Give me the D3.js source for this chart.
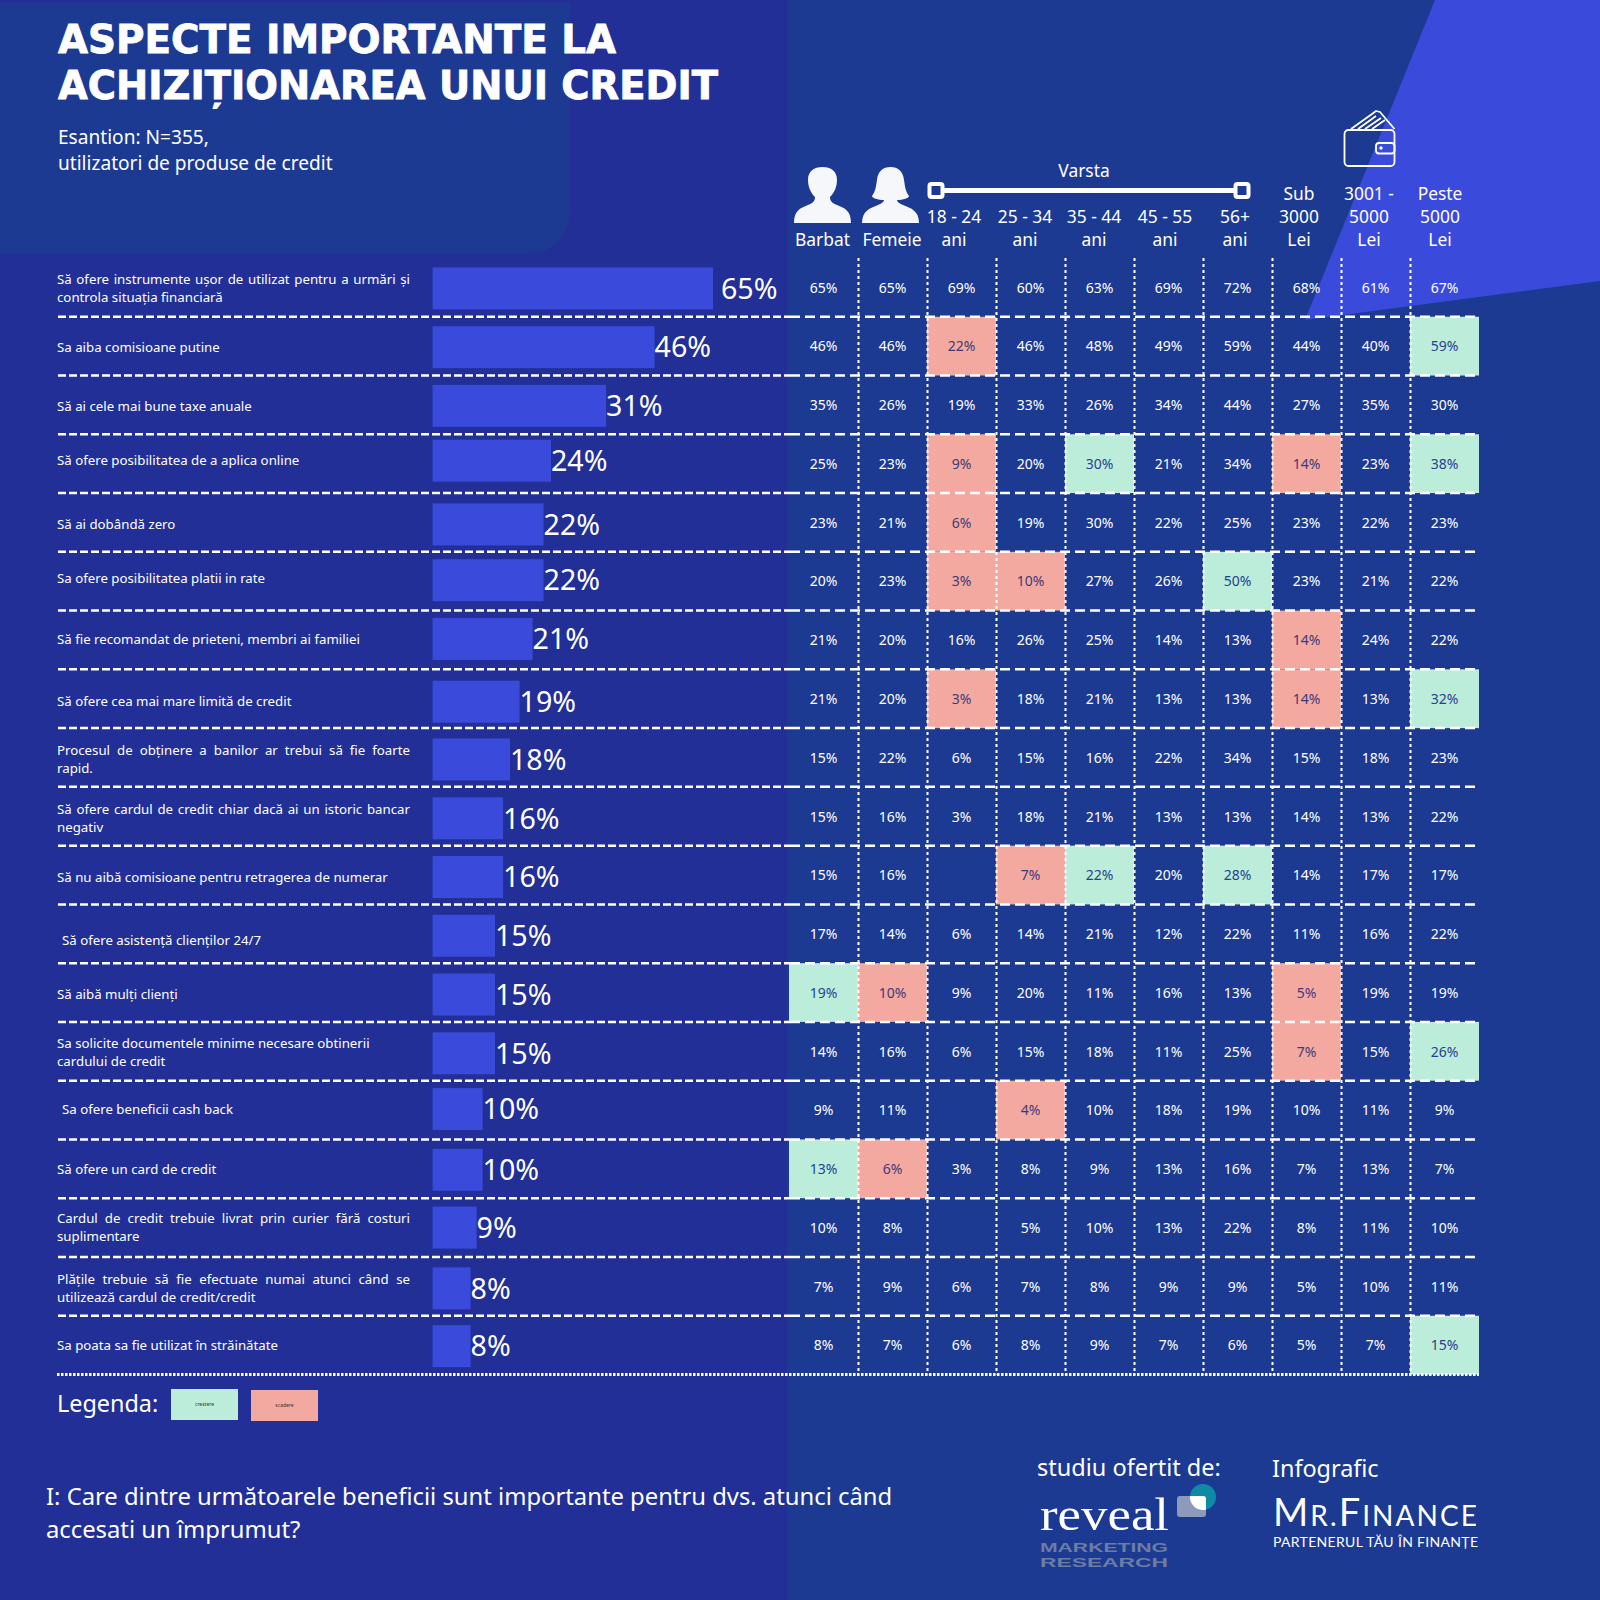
<!DOCTYPE html>
<html>
<head>
<meta charset="utf-8">
<script src="https://cdn.jsdelivr.net/npm/d3@7"></script>
<style>
  html, body { margin: 0; padding: 0; background: #222f96; }
  svg { display: block; }
  text { font-family: "Noto Sans", sans-serif; fill: #fff; }
</style>
</head>
<body>
<svg id="chart" width="1600" height="1600"></svg>
<script>
// row labels, one entry per text line
const aspects = [
  ["Să ofere instrumente ușor de utilizat pentru a urmări și", "controla situația financiară"],
  ["Sa aiba comisioane putine"],
  ["Să ai cele mai bune taxe anuale"],
  ["Să ofere posibilitatea de a aplica online"],
  ["Să ai dobândă zero"],
  ["Sa ofere posibilitatea platii in rate"],
  ["Să fie recomandat de prieteni, membri ai familiei"],
  ["Să ofere cea mai mare limită de credit"],
  ["Procesul de obținere a banilor ar trebui să fie foarte", "rapid."],
  ["Să ofere cardul de credit chiar dacă ai un istoric bancar", "negativ"],
  ["Să nu aibă comisioane pentru retragerea de numerar"],
  [" Să ofere asistență clienților 24/7"],
  ["Să aibă mulți clienți"],
  ["Sa solicite documentele minime necesare obtinerii", "cardului de credit"],
  [" Sa ofere beneficii cash back"],
  ["Să ofere un card de credit"],
  ["Cardul de credit trebuie livrat prin curier fără costuri", "suplimentare"],
  ["Plățile trebuie să fie efectuate numai atunci când se", "utilizează cardul de credit/credit"],
  ["Sa poata sa fie utilizat în străinătate"]
];
const justifiedRows = [0, 8, 9, 16, 17];

const total = [65, 46, 31, 24, 22, 22, 21, 19, 18, 16, 16, 15, 15, 15, 10, 10, 9, 8, 8];

const barbat  = [65, 46, 35, 25, 23, 20, 21, 21, 15, 15, 15, 17, 19, 14, 9, 13, 10, 7, 8];
const femeie  = [65, 46, 26, 23, 21, 23, 20, 20, 22, 16, 16, 14, 10, 16, 11, 6, 8, 9, 7];
const age1824 = [69, 22, 19, 9, 6, 3, 16, 3, 6, 3, null, 6, 9, 6, null, 3, null, 6, 6];
const age2534 = [60, 46, 33, 20, 19, 10, 26, 18, 15, 18, 7, 14, 20, 15, 4, 8, 5, 7, 8];
const age3544 = [63, 48, 26, 30, 30, 27, 25, 21, 16, 21, 22, 21, 11, 18, 10, 9, 10, 8, 9];
const age4555 = [69, 49, 34, 21, 22, 26, 14, 13, 22, 13, 20, 12, 16, 11, 18, 13, 13, 9, 7];
const age56   = [72, 59, 44, 34, 25, 50, 13, 13, 34, 13, 28, 22, 13, 25, 19, 16, 22, 9, 6];
const sub3000 = [68, 44, 27, 14, 23, 23, 14, 14, 15, 14, 14, 11, 5, 7, 10, 7, 8, 5, 5];
const mid5000 = [61, 40, 35, 23, 22, 21, 24, 13, 18, 13, 17, 16, 19, 15, 11, 13, 11, 10, 7];
const over5000 = [67, 59, 30, 38, 23, 22, 22, 32, 23, 22, 17, 22, 19, 26, 9, 7, 10, 11, 15];
const columns = [barbat, femeie, age1824, age2534, age3544, age4555, age56, sub3000, mid5000, over5000];

// highlighted cells as [row, column]
const crestere = [[1, 9], [3, 4], [3, 9], [5, 6], [7, 9], [10, 4], [10, 6], [12, 0], [13, 9], [15, 0], [18, 9]];
const scadere = [[1, 2], [3, 2], [3, 7], [4, 2], [5, 2], [5, 3], [6, 7], [7, 2], [7, 7], [10, 3], [12, 1], [12, 7], [13, 7], [14, 3], [15, 1]];

const headerLabels = [
  ["Barbat"], ["Femeie"], ["18 - 24", "ani"], ["25 - 34", "ani"], ["35 - 44", "ani"],
  ["45 - 55", "ani"], ["56+", "ani"], ["Sub", "3000", "Lei"], ["3001 -", "5000", "Lei"], ["Peste", "5000", "Lei"]
];
const headerX = [822.5, 892, 954, 1025, 1094, 1165, 1235, 1299, 1369, 1440];

const C = {
  left: "#222f96", right: "#1c3a92", bar: "#3a4adb", mint: "#bcedDb", salmon: "#f4a9a0",
  inkMint: "#27408f", inkSalmon: "#3c3a78"
};

// small hand placement of each row's bar and label, as in the original
const barNudge = [1, 1, 1, -3, 2, -1, -1, 3, 2, 2, 2, 2, 2, 2, -1, 1, 0, 2, 1];
const labelNudge = [1, 1, 1, -3, 2, -3, -1, 3, 2, 2, 2, 7, 2, 1, -1, 1, 0, 2, 0];

const svg = d3.select("#chart");
const rowIds = d3.range(aspects.length);
const y = d3.scaleBand().domain(rowIds).range([258, 1374.5]);
const x = d3.scaleBand().domain(d3.range(columns.length)).range([789, 1479]);
// the bars of the original are not strictly proportional, so the scale has several knots
const barW = d3.scaleLinear()
  .domain([0, 8, 10, 15, 16, 18, 19, 21, 22, 24, 31, 46, 65])
  .range([0, 38, 50, 62.4, 70.5, 77.4, 87, 100, 111, 118.4, 173.5, 222, 280.4]);

// backgrounds
svg.append("rect").attr("width", 1600).attr("height", 1600).attr("fill", C.left);
svg.append("rect").attr("x", 787).attr("width", 813).attr("height", 1600).attr("fill", C.right);
svg.append("path").attr("fill", C.right).attr("d", "M0,3H570V213A40,40 0 0 1 530,253H0Z");
svg.append("polygon").attr("fill", C.bar).attr("points", "1435,0 1600,0 1600,281 1305,320");

// title block
svg.selectAll("text.title").data([["ASPECTE IMPORTANTE LA", 558], ["ACHIZIȚIONAREA UNUI CREDIT", 660]]).join("text")
  .attr("class", "title").attr("x", 58).attr("y", (d, i) => 53 + i * 46)
  .style("font-family", "DejaVu Sans").attr("font-weight", 700).attr("font-size", 38.5)
  .attr("stroke", "#fff").attr("stroke-width", 0.8)
  .attr("textLength", d => d[1]).attr("lengthAdjust", "spacingAndGlyphs").text(d => d[0]);
svg.selectAll("text.sub").data(["Esantion: N=355,", "utilizatori de produse de credit"]).join("text")
  .attr("class", "sub").attr("x", 58).attr("y", (d, i) => 144 + i * 26)
  .attr("font-size", 19.1).text(d => d);

// highlighted cells
const cellRect = (list, fill) => svg.append("g").selectAll("rect").data(list).join("rect")
  .attr("x", d => x(d[1])).attr("y", d => y(d[0]))
  .attr("width", x.bandwidth()).attr("height", y.bandwidth()).attr("fill", fill);
cellRect(crestere, C.mint);
cellRect(scadere, C.salmon);

// bars
svg.append("g").selectAll("rect").data(total).join("rect")
  .attr("x", 432.6).attr("y", (d, i) => y(i) + y.bandwidth() / 2 + barNudge[i] - 21)
  .attr("width", d => barW(d)).attr("height", 42).attr("fill", C.bar);
svg.append("g").selectAll("text").data(total).join("text")
  .attr("x", (d, i) => 432.6 + barW(d) + (i === 0 ? 8 : 0))
  .attr("y", (d, i) => y(i) + y.bandwidth() / 2 + barNudge[i])
  .attr("dy", "0.36em").attr("font-size", 28.6).text(d => d + "%");

// row labels
const labelG = svg.append("g").selectAll("g").data(aspects).join("g")
  .attr("transform", (d, i) => `translate(0,${y(i) + y.bandwidth() / 2 + labelNudge[i]})`);
labelG.each(function (lines, r) {
  const indent = lines[0].startsWith(" ") ? 5 : 0;
  d3.select(this).selectAll("text").data(lines).join("text")
    .attr("x", 57 + indent)
    .attr("y", (d, i) => (i - (lines.length - 1) / 2) * 18)
    .attr("dy", "0.35em").attr("font-size", 13.25).text(d => d.trim())
    .each(function (d, i) {
      if (i === 0 && justifiedRows.includes(r)) {
        const gaps = d.trim().split(" ").length - 1;
        const w = this.getComputedTextLength();
        d3.select(this).attr("word-spacing", (353 - w) / gaps);
      }
    });
});

// table values
columns.forEach((col, c) => {
  const ink = r => crestere.some(p => p[0] === r && p[1] === c) ? C.inkMint
    : scadere.some(p => p[0] === r && p[1] === c) ? C.inkSalmon : "#fff";
  svg.append("g").selectAll("text").data(col).join("text")
    .attr("x", x(c) + x.bandwidth() / 2).attr("y", (d, r) => y(r) + y.bandwidth() / 2 + 0.4)
    .attr("text-anchor", "middle").attr("dy", "0.35em").attr("font-size", 14)
    .style("fill", (d, r) => ink(r)).text(d => d === null ? "" : d + "%");
});

// grid lines
const grid = svg.append("g").attr("stroke", "#fff").attr("fill", "none");
grid.selectAll("line.h").data(rowIds.slice(1)).join("line").attr("class", "h")
  .attr("x1", 58).attr("x2", 790).attr("y1", d => y(d)).attr("y2", d => y(d))
  .attr("stroke-width", 2.5).attr("stroke-dasharray", "8 3");
grid.selectAll("line.hr").data(rowIds.slice(1)).join("line").attr("class", "hr")
  .attr("x1", 790).attr("x2", 1479).attr("y1", d => y(d)).attr("y2", d => y(d))
  .attr("stroke-width", 2.5).attr("stroke-dasharray", "10 5");
grid.append("line").attr("x1", 57).attr("x2", 1479).attr("y1", 1374.5).attr("y2", 1374.5)
  .attr("stroke-width", 3).attr("stroke-dasharray", "2.5 1.5");
grid.selectAll("line.v").data(d3.range(1, columns.length)).join("line").attr("class", "v")
  .attr("x1", d => x(d) + 0.5).attr("x2", d => x(d) + 0.5).attr("y1", 258).attr("y2", 1374.5)
  .attr("stroke-width", 2).attr("stroke-dasharray", "3 3");

// column headers, bottom aligned
headerLabels.forEach((lines, c) => {
  svg.append("g").selectAll("text").data(lines).join("text")
    .attr("x", headerX[c]).attr("y", (d, i) => 246 - (lines.length - 1 - i) * 23)
    .attr("text-anchor", "middle").attr("font-size", 17.4).text(d => d);
});
svg.append("text").attr("x", 1084).attr("y", 177).attr("text-anchor", "middle").attr("font-size", 17.4).text("Varsta");

// person icons
const man = "M0,56C0,44 6,41 14,38C19,36 21,34 21,30C17,26 14,20 14,13C14,4 20,0 28.5,0C37,0 43,4 43,13C43,20 40,26 36,30C36,34 38,36 43,38C51,41 57,44 57,56Z";
const woman = "M0,56C0,44 8,41 16,38C20,36 22,35 22,33C16,33 10,31 10,29C14,24 14,18 15,13C16,4 21,0 28.5,0C36,0 41,4 42,13C43,18 43,24 47,29C47,31 41,33 35,33C35,35 37,36 41,38C49,41 57,44 57,56Z";
svg.append("path").attr("d", man).attr("fill", "#f5f7fb").attr("transform", "translate(794,167)");
svg.append("path").attr("d", woman).attr("fill", "#f5f7fb").attr("transform", "translate(862,167)");

// age slider
svg.append("line").attr("x1", 932).attr("x2", 1245).attr("y1", 190.5).attr("y2", 190.5).attr("stroke", "#fff").attr("stroke-width", 5);
[936, 1242].forEach(cx => {
  svg.append("rect").attr("x", cx - 6.5).attr("y", 184).attr("width", 13).attr("height", 13).attr("rx", 2)
    .attr("fill", C.right).attr("stroke", "#fff").attr("stroke-width", 4);
});

// wallet
const wallet = svg.append("g").attr("fill", "none").attr("stroke", "#fff").attr("stroke-width", 1.8).attr("stroke-linejoin", "round");
wallet.append("rect").attr("x", 1344.5).attr("y", 130).attr("width", 50).attr("height", 36).attr("rx", 4);
wallet.append("rect").attr("x", 1376).attr("y", 143).attr("width", 18.5).attr("height", 10.5).attr("rx", 3);
wallet.append("path").attr("d", "M1351,129L1372,114L1376,111L1380,112L1394.5,129M1358,129L1376,116M1365,129L1381,118M1372,129L1385,120");
wallet.append("circle").attr("cx", 1381).attr("cy", 148).attr("r", 0.8);

// legend
svg.append("text").attr("x", 57).attr("y", 1412).attr("font-size", 23.4).text("Legenda:");
svg.append("rect").attr("x", 171).attr("y", 1389).attr("width", 67).attr("height", 31).attr("fill", C.mint);
svg.append("rect").attr("x", 251).attr("y", 1390).attr("width", 67).attr("height", 31).attr("fill", C.salmon);
svg.append("text").attr("x", 204.5).attr("y", 1406).attr("text-anchor", "middle").attr("font-size", 5).style("fill", "#333").text("crestere");
svg.append("text").attr("x", 284.5).attr("y", 1407).attr("text-anchor", "middle").attr("font-size", 5).style("fill", "#333").text("scadere");

// question
svg.selectAll("text.q").data([
  "I: Care dintre următoarele beneficii sunt importante pentru dvs. atunci când",
  "accesati un împrumut?"
]).join("text").attr("class", "q").attr("x", 46).attr("y", (d, i) => 1505 + i * 33).attr("font-size", 23.8).text(d => d);

// credits
svg.append("text").attr("x", 1037).attr("y", 1476).attr("font-size", 23.5).text("studiu ofertit de:");
svg.append("text").attr("x", 1272).attr("y", 1477).attr("font-size", 23.4).text("Infografic");

svg.append("text").attr("x", 1040).attr("y", 1530).style("font-family", "Liberation Serif").attr("font-size", 47)
  .attr("textLength", 129).attr("lengthAdjust", "spacingAndGlyphs").text("reveal");
const clip = svg.append("clipPath").attr("id", "logoClip");
clip.append("rect").attr("x", 1177).attr("y", 1496).attr("width", 29).attr("height", 21).attr("rx", 3);
svg.append("circle").attr("cx", 1203).attr("cy", 1497).attr("r", 13).attr("fill", "#0f8aa5");
svg.append("rect").attr("x", 1177).attr("y", 1496).attr("width", 29).attr("height", 21).attr("rx", 3).attr("fill", "#8c9bbb");
svg.append("circle").attr("cx", 1203).attr("cy", 1497).attr("r", 13).attr("fill", "#fff").attr("clip-path", "url(#logoClip)");
svg.selectAll("text.mr").data(["MARKETING", "RESEARCH"]).join("text").attr("class", "mr")
  .attr("x", 1040).attr("y", (d, i) => 1552 + i * 15).style("font-family", "Liberation Sans").attr("font-size", 13)
  .attr("font-weight", 700).attr("textLength", 128).attr("lengthAdjust", "spacingAndGlyphs")
  .style("fill", "#6c7da3").text(d => d);

const mf = svg.append("text").attr("x", 1273).attr("y", 1526).style("font-family", "Lato").attr("textLength", 204).attr("lengthAdjust", "spacing");
[["M", 38], ["R.", 28], ["F", 38], ["INANCE", 28]].forEach(p => mf.append("tspan").attr("font-size", p[1]).text(p[0]));
svg.append("text").attr("x", 1273).attr("y", 1547).style("font-family", "Lato").attr("font-size", 14)
  .attr("textLength", 205).attr("lengthAdjust", "spacing").text("PARTENERUL TĂU ÎN FINANȚE");
</script>
</body>
</html>
